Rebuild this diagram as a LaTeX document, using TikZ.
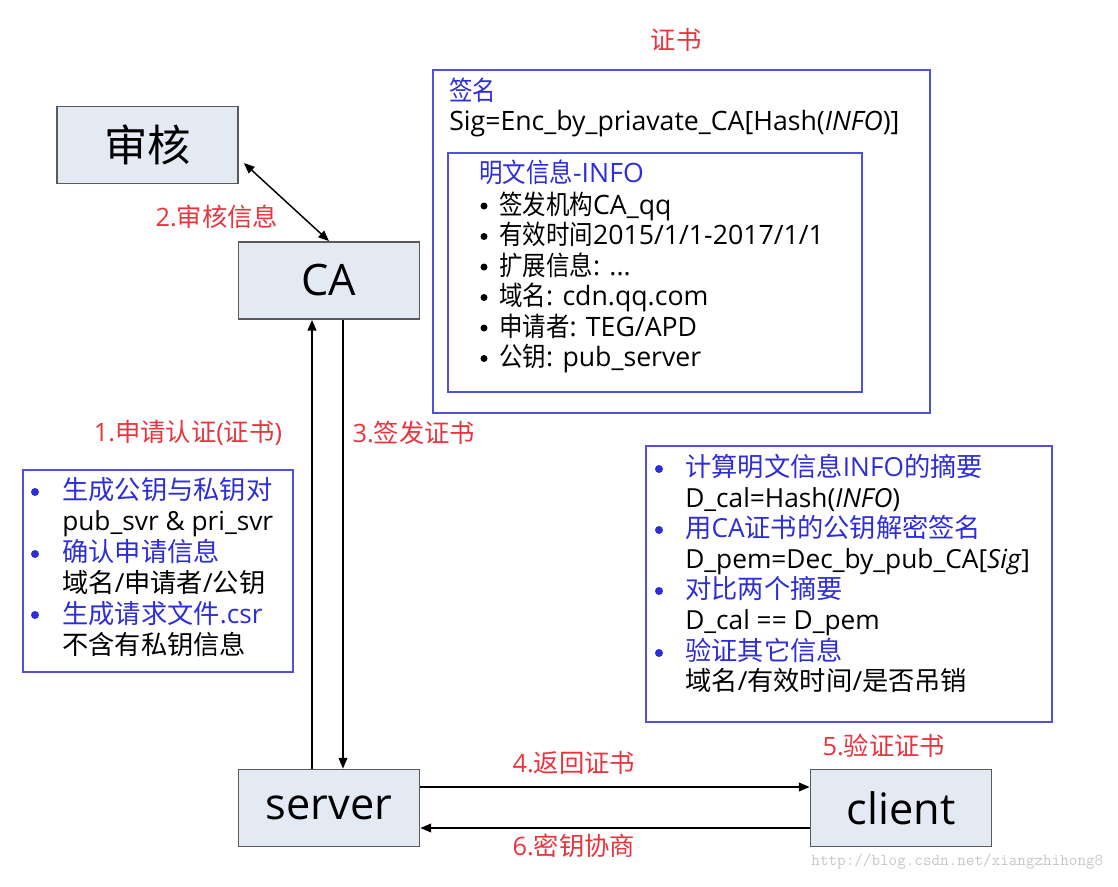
\documentclass[tikz,border=0pt]{standalone}
\usepackage{fontspec}
\setmainfont{Open Sans}
\newfontfamily\cjkwide{Noto Sans CJK SC}
\newfontfamily\cjknarrow{Noto Sans CJK SC}[FakeStretch=0.88]
\let\cjkfont\cjkwide
% switch to the CJK font for Chinese characters
\XeTeXinterchartokenstate=1
\newXeTeXintercharclass\cjkclass
\makeatletter
\count@="4E00
\loop
  \XeTeXcharclass\count@=\cjkclass
  \advance\count@ by 1
\ifnum\count@<"A000 \repeat
\makeatother
\XeTeXinterchartoks 0 \cjkclass = {\cjkfont}
\XeTeXinterchartoks 4095 \cjkclass = {\cjkfont}
\XeTeXinterchartoks \cjkclass 0 = {\rmfamily}
\usepackage{tikz}
\usetikzlibrary{arrows.meta, positioning}
\definecolor{boxfill}{HTML}{E4EAF4}
\definecolor{boxline}{HTML}{5A5A5A}
\definecolor{frameblue}{HTML}{5050DC}
\definecolor{txtblue}{HTML}{2E2ED8}
\definecolor{labelred}{HTML}{E8343C}

\begin{document}
\begin{tikzpicture}[x=0.75pt,y=-0.75pt,
    box/.style={draw=boxline,fill=boxfill,line width=1.1pt,minimum width=136pt,minimum height=58pt,inner sep=0,font=\fontsize{32.5}{38}\selectfont},
    frame/.style={draw=frameblue,line width=1.1pt},
    ln/.style={anchor=base west,inner sep=0},
    cert/.style={ln,font=\fontsize{20}{24}\selectfont\let\cjkfont\cjknarrow},
    side/.style={ln,font=\fontsize{19.7}{23}\selectfont},
    hl/.style={text=txtblue},
    lbl/.style={text=labelred,inner sep=0,font=\fontsize{19}{23}\selectfont},
    arr/.style={-{Triangle[length=8pt,width=6.5pt]},line width=1.1pt}]
    \useasboundingbox (0,0) rectangle (1118,886);
    % the four parties
    \node[box] (shenhe) at (147.5,145) {审核};
    \node[box] (ca) at (329,280.5) {CA};
    \node[box] (server) at (329,808) {server};
    \node[box] (client) at (901,808) {client};
    % certificate
    \node[lbl] (zs) at (676,40) {证书};
    \draw[frame] (433,70) rectangle (930,413);
    \draw[frame] (448,153) rectangle (862,392);
    \node[cert,hl] (qm) at (449,100) {签名};
    \node[cert] (sig) at (449,130) {Sig=Enc\_by\_priavate\_CA[Hash(\textit{INFO})]};
    \node[cert,hl] (info) at (479,182) {明文信息-INFO};
    \foreach \t [count=\i] in {签发机构CA\_qq, 有效时间2015/1/1-2017/1/1, 扩展信息: .{}.., 域名: cdn.qq.com, 申请者: TEG/APD, 公钥: pub\_server}{
        \fill (484,175.5+30.5*\i) circle (3.5);
        \node[cert] (item\i) at (499,183.5+30.5*\i) {\t};
    }
    % server side
    \draw[frame] (23,470) rectangle (293,672);
    \fill[txtblue] (35,492) circle (4);
    \node[side,hl] (s1) at (62,499) {生成公钥与私钥对};
    \node[side] (s2) at (62,530) {pub\_svr \& pri\_svr};
    \fill[txtblue] (35,554) circle (4);
    \node[side,hl] (s3) at (62,561) {确认申请信息};
    \node[side] (s4) at (62,592) {域名/申请者/公钥};
    \fill[txtblue] (35,615) circle (4);
    \node[side,hl] (s5) at (62,623) {生成请求文件.csr};
    \node[side] (s6) at (62,654) {不含有私钥信息};
    % client side
    \draw[frame] (646,446) rectangle (1052,722);
    \fill[txtblue] (659,469) circle (4);
    \node[side,hl] (r1) at (685,476) {计算明文信息INFO的摘要};
    \node[side] (r2) at (685,507) {D\_cal=Hash(\textit{INFO})};
    \fill[txtblue] (659,530) circle (4);
    \node[side,hl] (r3) at (685,537) {用CA证书的公钥解密签名};
    \node[side] (r4) at (685,568) {D\_pem=Dec\_by\_pub\_CA[\textit{Sig}]};
    \fill[txtblue] (659,591) circle (4);
    \node[side,hl] (r5) at (685,598) {对比两个摘要};
    \node[side] (r6) at (685,629) {D\_cal == D\_pem};
    \fill[txtblue] (659,653) circle (4);
    \node[side,hl] (r7) at (685,660) {验证其它信息};
    \node[side] (r8) at (685,690) {域名/有效时间/是否吊销};
    % arrows
    \draw[{Triangle[length=8pt,width=6.5pt]}-{Triangle[length=8pt,width=6.5pt]},line width=1.1pt] ([shift={(5,18)}]shenhe.east) -- (ca.north);
    \node[lbl] (l2) at (217,217) {2.审核信息};
    \draw[arr] ([xshift=-12.75pt]server.north) -- ([xshift=-12.75pt]ca.south);
    \draw[arr] ([xshift=10.5pt]ca.south) -- ([xshift=10.5pt]server.north);
    \node[lbl] (l1) at (188,433) {1.申请认证(证书)};
    \node[lbl] (l3) at (414,433) {3.签发证书};
    \draw[arr] ([yshift=15.75pt]server.east) -- ([yshift=15.75pt]client.west);
    \draw[arr] ([yshift=-15pt]client.west) -- ([yshift=-15pt]server.east);
    \node[lbl] (l4) at (574,763) {4.返回证书};
    \node[lbl] (l5) at (884,746) {5.验证证书};
    \node[lbl] (l6) at (574,846) {6.密钥协商};
    \node[text=black!22,anchor=east,font=\ttfamily\fontsize{12.5}{14}\selectfont] (wm) at (1108,862) {http://blog.csdn.net/xiangzhihong8};
\end{tikzpicture}
\end{document}
